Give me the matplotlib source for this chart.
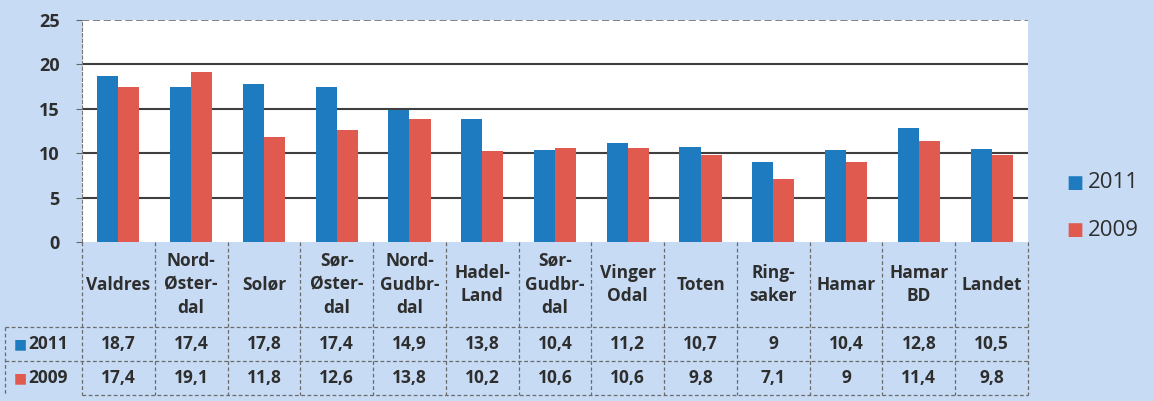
import matplotlib.pyplot as plt
import matplotlib.transforms as mtransforms
import numpy as np

# data
categories = ['Valdres', 'Nord-\nØster-\ndal', 'Solør', 'Sør-\nØster-\ndal', 'Nord-\nGudbr-\ndal',
              'Hadel-\nLand', 'Sør-\nGudbr-\ndal', 'Vinger\nOdal', 'Toten', 'Ring-\nsaker',
              'Hamar', 'Hamar\nBD', 'Landet']
v2011 = [18.7, 17.4, 17.8, 17.4, 14.9, 13.8, 10.4, 11.2, 10.7, 9, 10.4, 12.8, 10.5]
v2009 = [17.4, 19.1, 11.8, 12.6, 13.8, 10.2, 10.6, 10.6, 9.8, 7.1, 9, 11.4, 9.8]
series = ['2011', '2009']

c2011 = '#1f7bc0'
c2009 = '#e05a4f'
bg = '#c7dcf4'
grid_c = '#3f3f3f'
txt_c = '#2e2e2e'

plt.rcParams['font.family'] = ['Open Sans', 'DejaVu Sans']

fig = plt.figure(figsize=(11.53, 4.01), dpi=100, facecolor=bg)
ax = fig.add_axes([82/1153, 1-242/401, 946/1153, 222/401])
ax.set_facecolor('white')

x = np.arange(len(categories))
w = 0.29
ax.bar(x - w/2, v2011, w, color=c2011, zorder=3)
ax.bar(x + w/2, v2009, w, color=c2009, zorder=3)

ax.set_xlim(-0.5, len(categories) - 0.5)
ax.set_ylim(0, 25)
ax.set_yticks([0, 5, 10, 15, 20, 25])
ax.set_yticklabels(['0', '5', '10', '15', '20', '25'], fontsize=13, fontweight='bold', color=txt_c)
ax.tick_params(axis='y', length=4, color='#666666', pad=12)
ax.set_xticks([])
for yv in [5, 10, 15, 20]:
    ax.axhline(yv, color=grid_c, lw=1.5, zorder=1)
ax.axhline(25, color='#777777', lw=1.3, ls=(0, (4, 2)), zorder=1)
for s in ['top', 'right', 'bottom']:
    ax.spines[s].set_visible(False)
ax.spines['left'].set_color('#777777')
ax.spines['left'].set_linestyle((0, (3, 2)))

# data table below the axes
trans = mtransforms.blended_transform_factory(ax.transData, ax.transAxes)
row_y = [0, -85/222, -119/222, -153/222]
left_x = -1.56
line_kw = dict(color='#6a6a6a', lw=0.9, ls=(0, (3, 2)), transform=trans, clip_on=False)
for i in range(len(categories) + 1):
    ax.plot([i - 0.5, i - 0.5], [0, row_y[-1]], **line_kw)
ax.plot([left_x, left_x], [row_y[1], row_y[-1]], **line_kw)
ax.plot([-0.5, len(categories) - 0.5], [row_y[-1], row_y[-1]], **line_kw)
for yy in row_y[1:3]:
    ax.plot([left_x, len(categories) - 0.5], [yy, yy], **line_kw)

for i, cat in enumerate(categories):
    ax.text(i, (row_y[0] + row_y[1]) / 2, cat, transform=trans, ha='center', va='center',
            fontsize=12.5, fontweight='bold', color=txt_c, linespacing=1.4)
    ax.text(i, (row_y[1] + row_y[2]) / 2, f'{v2011[i]:g}'.replace('.', ','), transform=trans,
            ha='center', va='center', fontsize=12.5, fontweight='bold', color=txt_c)
    ax.text(i, (row_y[2] + row_y[3]) / 2, f'{v2009[i]:g}'.replace('.', ','), transform=trans,
            ha='center', va='center', fontsize=12.5, fontweight='bold', color=txt_c)

for k, (name, col) in enumerate(zip(series, [c2011, c2009])):
    yc = (row_y[k + 1] + row_y[k + 2]) / 2
    ax.text(left_x + 0.12, yc, '■', transform=trans, ha='left', va='center',
            fontsize=10, color=col, family='DejaVu Sans')
    ax.text(left_x + 0.32, yc, name, transform=trans, ha='left', va='center',
            fontsize=12.5, fontweight='bold', color=txt_c)

# legend on the right
for k, (name, col) in enumerate(zip(series, [c2011, c2009])):
    yf = 1 - (183 + 47 * k) / 401
    fig.text(1066/1153, yf, '■', ha='left', va='center', fontsize=13, color=col, family='DejaVu Sans')
    fig.text(1088/1153, yf, name, ha='left', va='center', fontsize=16, color=txt_c)

fig.savefig('out.png', dpi=100, facecolor=bg)
